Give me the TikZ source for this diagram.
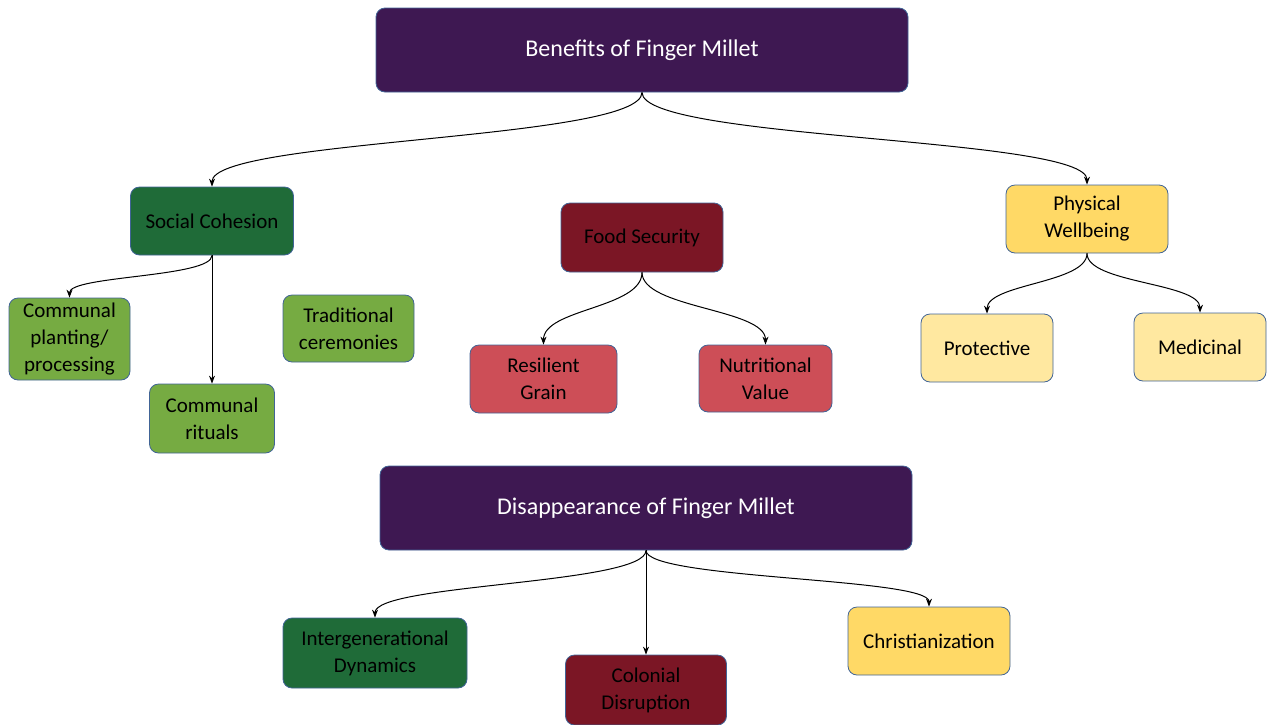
\documentclass[tikz,border=0pt]{standalone}
\usepackage{fontspec}
\setmainfont{Carlito}
\usetikzlibrary{arrows.meta}
\definecolor{cpurple}{RGB}{62,24,82}
\definecolor{cdgreen}{RGB}{31,107,56}
\definecolor{clgreen}{RGB}{118,171,66}
\definecolor{cdred}{RGB}{123,22,37}
\definecolor{cred}{RGB}{205,78,87}
\definecolor{cyellow}{RGB}{255,217,102}
\definecolor{clyellow}{RGB}{255,232,160}
\definecolor{cborder}{RGB}{65,100,150}
\begin{document}
\begin{tikzpicture}[x=1pt,y=-1pt,
  box/.style={draw=cborder, line width=0.8pt, rounded corners=9pt, align=center,
    inner sep=0pt, font=\fontsize{21}{27}\selectfont, text=black},
  title/.style={box, fill=cpurple, text=white, font=\fontsize{24}{29}\selectfont,
    minimum width=532pt, minimum height=84pt},
  conn/.style={line width=1pt, -{Stealth[length=8pt,width=6pt]}}
]
\useasboundingbox (0,0) rectangle (1267,724);
% top level
\node[title] (ben) at (642,50) {Benefits of Finger Millet};
\node[box, fill=cdgreen, minimum width=163pt, minimum height=68pt] (soc) at (212,221) {Social Cohesion};
\node[box, fill=cdred, minimum width=162pt, minimum height=69pt] (food) at (642,237.5) {Food Security};
\node[box, fill=cyellow, minimum width=162pt, minimum height=68pt] (phys) at (1087,219) {Physical\\Wellbeing};
% social children
\node[box, fill=clgreen, minimum width=121pt, minimum height=82pt] (plant) at (69.5,339) {Communal\\planting/\\processing};
\node[box, fill=clgreen, minimum width=125pt, minimum height=69pt] (rit) at (212,418.5) {Communal\\rituals};
\node[box, fill=clgreen, minimum width=131pt, minimum height=67pt] (trad) at (348.5,328.5) {Traditional\\ceremonies};
% food children
\node[box, fill=cred, minimum width=147pt, minimum height=68pt] (res) at (543.5,379) {Resilient\\Grain};
\node[box, fill=cred, minimum width=133pt, minimum height=67pt] (nut) at (765.5,378.5) {Nutritional\\Value};
% physical children
\node[box, fill=clyellow, minimum width=132pt, minimum height=68pt] (prot) at (987,348) {Protective};
\node[box, fill=clyellow, minimum width=132pt, minimum height=68pt] (med) at (1200,347) {Medicinal};
% disappearance
\node[title] (dis) at (646,508) {Disappearance of Finger Millet};
\node[box, fill=cdgreen, minimum width=184pt, minimum height=70pt] (inter) at (375,653) {Intergenerational\\Dynamics};
\node[box, fill=cdred, minimum width=161pt, minimum height=70pt] (col) at (646,690) {Colonial\\Disruption};
\node[box, fill=cyellow, minimum width=162pt, minimum height=68pt] (chr) at (929,641) {Christianization};
% connectors
\draw[conn] (ben.south) .. controls +(0,48) and +(0,-48) .. (soc.north);
\draw[conn] (ben.south) .. controls +(0,48) and +(0,-48) .. (phys.north);
\draw[conn] (soc.south) .. controls +(0,22) and +(0,-22) .. (plant.north);
\draw[conn] (soc.south) -- (rit.north);
\draw[conn] (food.south) .. controls +(0,36) and +(0,-36) .. (res.north);
\draw[conn] (food.south) .. controls +(0,36) and +(0,-36) .. (nut.north);
\draw[conn] (phys.south) .. controls +(0,30) and +(0,-30) .. (prot.north);
\draw[conn] (phys.south) .. controls +(0,30) and +(0,-30) .. (med.north);
\draw[conn] (dis.south) .. controls +(0,34) and +(0,-34) .. (inter.north);
\draw[conn] (dis.south) -- (col.north);
\draw[conn] (dis.south) .. controls +(0,29) and +(0,-29) .. (chr.north);
\end{tikzpicture}
\end{document}
